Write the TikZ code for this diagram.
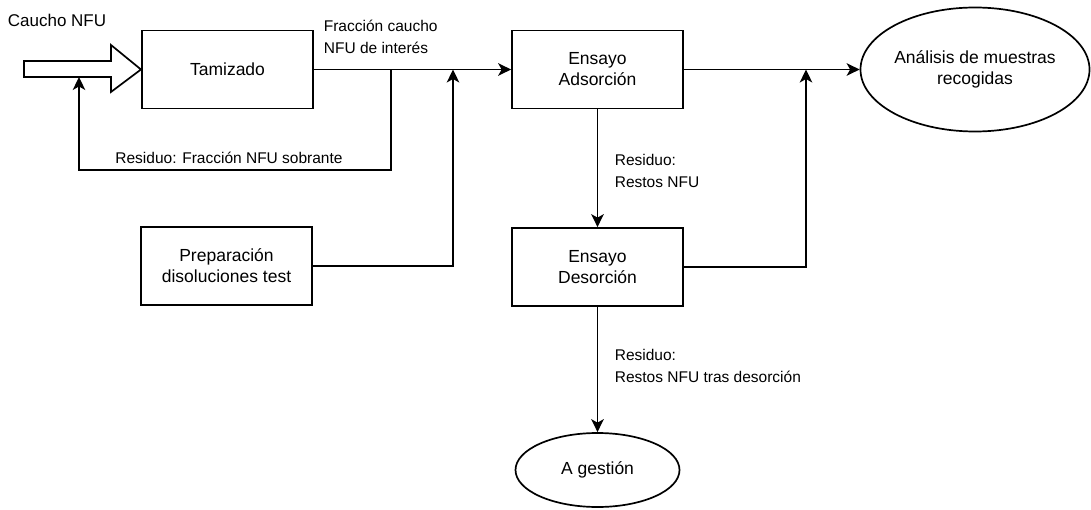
\documentclass[tikz,border=0pt]{standalone}
\usepackage{fontspec}
\setmainfont{Liberation Sans}
\usetikzlibrary{arrows.meta,shapes.geometric}

\begin{document}
\begin{tikzpicture}[x=1pt,y=-1pt,
  line width=1.7pt,
  flow/.style={-{Stealth[length=13pt,width=12.5pt,inset=3.5pt]}},
  procbox/.style={draw, rectangle, minimum width=171pt, minimum height=78pt,
    align=center, inner sep=0pt, font=\fontsize{17.5}{21}\selectfont},
  term/.style={draw, ellipse, inner sep=0pt, align=center,
    font=\fontsize{17.5}{21}\selectfont},
  note/.style={inner sep=0pt, align=left, font=\fontsize{15.5}{22}\selectfont}
]
\useasboundingbox (0,0) rectangle (1091,510);

% process steps
\node[procbox] (tam) at (227.5,69.5) {Tamizado};
\node[procbox] (ads) at (597.5,69.5) {Ensayo\\Adsorción};
\node[procbox] (prep) at (226.5,266) {Preparación\\disoluciones test};
\node[procbox] (des) at (597.5,267) {Ensayo\\Desorción};
\node[term, minimum width=229pt, minimum height=124pt] (ana) at (975,69.5)
  {Análisis de muestras\\recogidas};
\node[term, minimum width=164pt, minimum height=74pt] (ges) at (597.5,470)
  {A gestión};

% raw material input (block arrow)
\draw (24,61) -- (111,61) -- (111,45) -- (141,69.5)
  -- (111,92) -- (111,77) -- (24,77) -- cycle;
\coordinate (feed) at (79,77);
\node[inner sep=0pt, font=\fontsize{17}{20}\selectfont] (in) at (57,20) {Caucho NFU};

% junction points
\coordinate (split) at (391,69.5);
\coordinate (back) at (391,170);
\coordinate (join) at (453,69.5);
\coordinate (join2) at (806,69.5);

% connectors
\draw[flow] (tam.east) -- (ads.west);
\draw[flow] (split) -- (back) -| (feed);
\draw[flow] (prep.east) -| (join);
\draw[flow] (ads.east) -- (ana.west);
\draw[flow] (des.east) -| (join2);
\draw[flow] (ads.south) -- (des.north);
\draw[flow] (des.south) -- (ges.north);

% flow labels
\node[note, anchor=west] (l1) at (323,37) {Fracción caucho\\NFU de interés};
\node[note] (l2) at (229,158) {Residuo: Fracción NFU sobrante};
\node[note, anchor=west] (l3) at (614,170.5) {Residuo:\\Restos NFU};
\node[note, anchor=west] (l4) at (614,366) {Residuo:\\Restos NFU tras desorción};
\end{tikzpicture}
\end{document}
